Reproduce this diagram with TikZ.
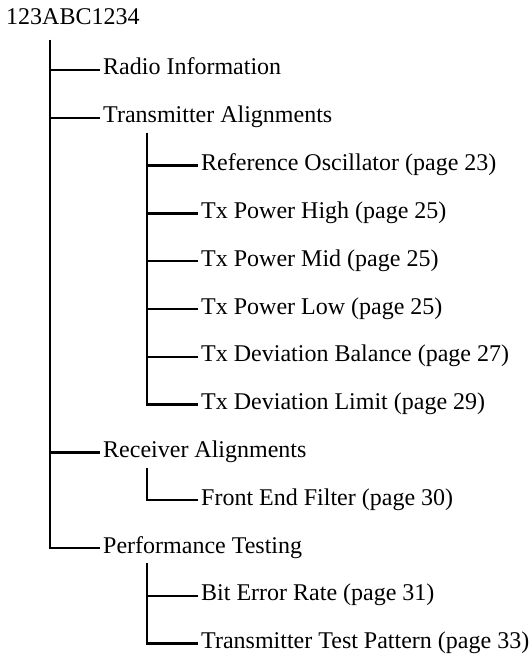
\documentclass[tikz,border=0pt]{standalone}
\usepackage{fontspec}
\setmainfont{Liberation Serif}
\begin{document}
\begin{tikzpicture}[x=1pt,y=-1pt,
  item/.style={anchor=west,inner xsep=3pt,inner ysep=0pt,text height=15pt,text depth=5pt,font=\fontsize{24}{28}\selectfont},
  link/.style={line width=2.5pt}]
\useasboundingbox (0,0) rectangle (532,655);
\def\rs{47.8}
\node[anchor=base west,inner sep=0pt,font=\fontsize{24}{28}\selectfont] (root) at (6,25) {123ABC1234};
% level 1
\node[item] (radio) at (100,70) {Radio Information};
\node[item] (tx) at (100,70+1*\rs) {Transmitter Alignments};
\node[item] (rx) at (100,70+8*\rs) {Receiver Alignments};
\node[item] (perf) at (100,70+10*\rs) {Performance Testing};
% level 2
\node[item] (ref) at (198,70+2*\rs) {Reference Oscillator (page 23)};
\node[item] (phigh) at (198,70+3*\rs) {Tx Power High (page 25)};
\node[item] (pmid) at (198,70+4*\rs) {Tx Power Mid (page 25)};
\node[item] (plow) at (198,70+5*\rs) {Tx Power Low (page 25)};
\node[item] (dbal) at (198,70+6*\rs) {Tx Deviation Balance (page 27)};
\node[item] (dlim) at (198,70+7*\rs) {Tx Deviation Limit (page 29)};
\node[item] (fef) at (198,70+9*\rs) {Front End Filter (page 30)};
\node[item] (ber) at (198,70+11*\rs) {Bit Error Rate (page 31)};
\node[item] (ttp) at (198,70+12*\rs) {Transmitter Test Pattern (page 33)};
% trunk starts
\coordinate (r0) at (50,40);
\coordinate (t0) at (147,133);
\coordinate (v0) at (147,468);
\coordinate (p0) at (147,563);
\foreach \n in {radio,tx,rx,perf} \draw[link] (r0) |- (\n.west);
\foreach \n in {ref,phigh,pmid,plow,dbal,dlim} \draw[link] (t0) |- (\n.west);
\draw[link] (v0) |- (fef.west);
\foreach \n in {ber,ttp} \draw[link] (p0) |- (\n.west);
\end{tikzpicture}
\end{document}
